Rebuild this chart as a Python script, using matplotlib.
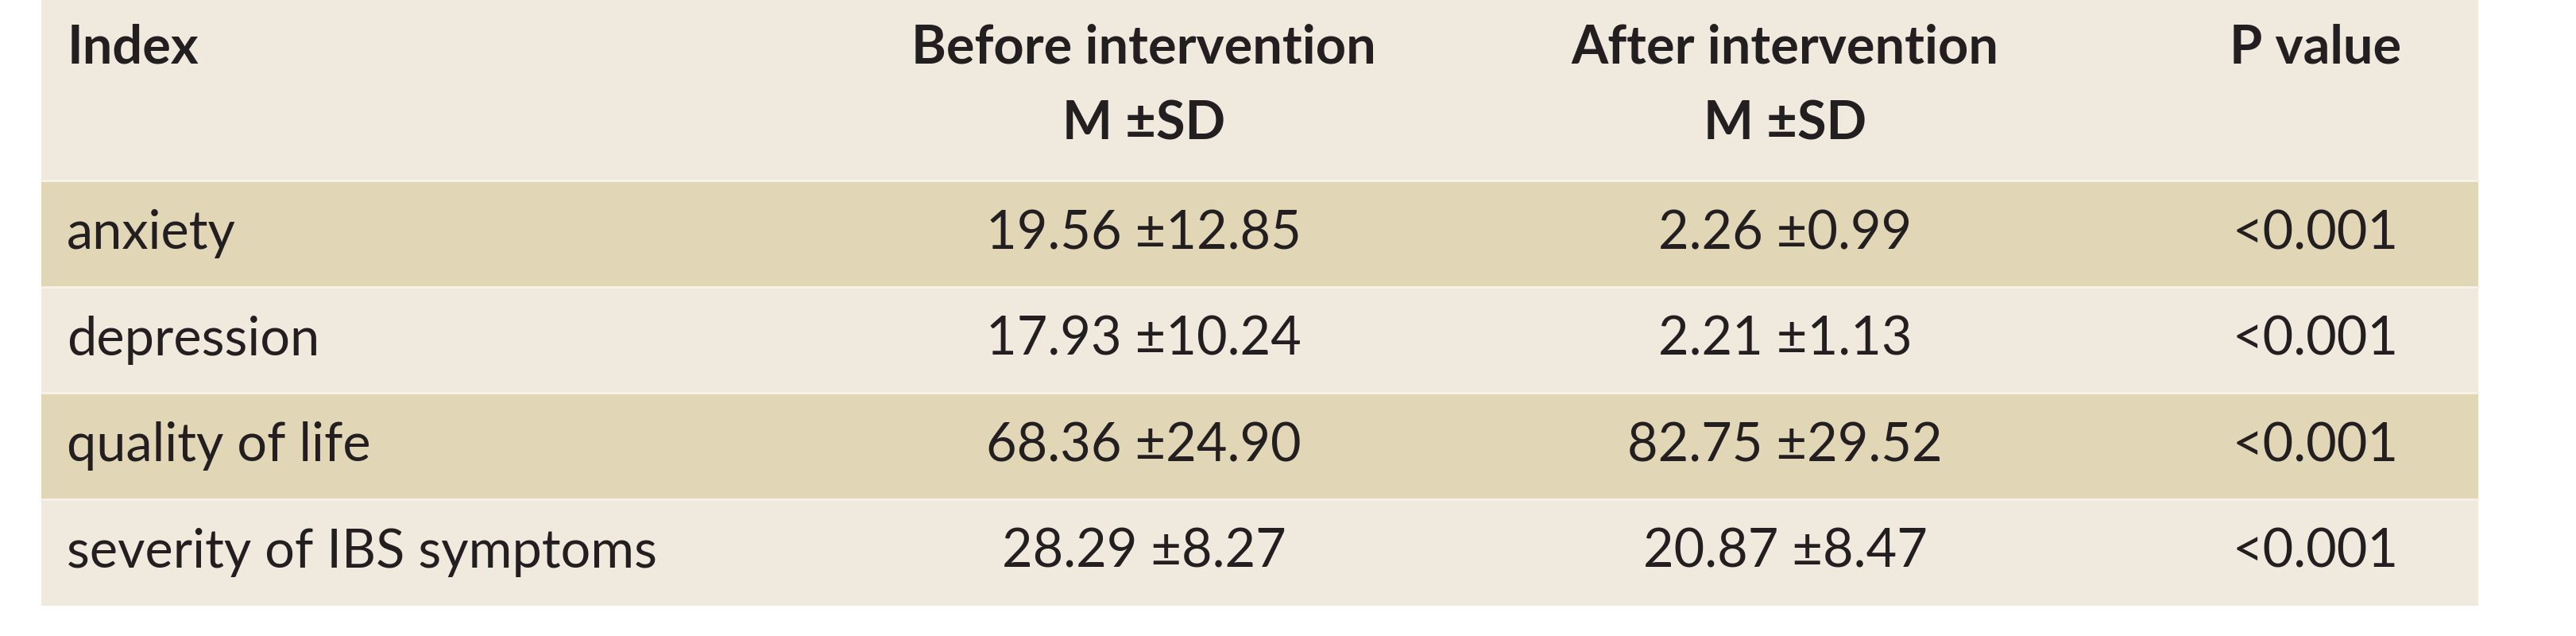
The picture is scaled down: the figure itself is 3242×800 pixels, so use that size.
import matplotlib
matplotlib.use("Agg")
import matplotlib.pyplot as plt
from matplotlib.patches import Rectangle

headers = ["Index", "Before intervention", "After intervention", "P value"]
subheaders = ["", "M ±SD", "M ±SD", ""]
indices = ["anxiety", "depression", "quality of life", "severity of IBS symptoms"]
before = ["19.56 ±12.85", "17.93 ±10.24", "68.36 ±24.90", "28.29 ±8.27"]
after = ["2.26 ±0.99", "2.21 ±1.13", "82.75 ±29.52", "20.87 ±8.47"]
pvals = ["<0.001", "<0.001", "<0.001", "<0.001"]

light = "#f0e9de"
dark = "#e1d6b6"
fam = ["Lato", "DejaVu Sans"]
tc = "#231f20"

fig = plt.figure(figsize=(32.42, 8), dpi=100)
ax = fig.add_axes([0, 0, 1, 1])
ax.set_xlim(0, 1); ax.set_ylim(1, 0); ax.axis("off")

L, R = 0.016, 0.962
top, hb, rh = 0.0, 0.284, 0.167
ax.add_patch(Rectangle((L, top), R - L, hb, color=light, lw=0))
for i in range(4):
    y0 = hb + i * rh
    ax.add_patch(Rectangle((L, y0), R - L, rh, color=dark if i % 2 == 0 else light, lw=0))
    ax.plot([L, R], [y0, y0], color="#f7f2ea", lw=2)

xs = [0.026, 0.444, 0.693, 0.899]
fs = 48
for j in range(4):
    ax.text(xs[j], 0.075, headers[j], ha="left" if j == 0 else "center", va="center",
            fontsize=fs, fontweight="bold", family=fam, color=tc)
    if subheaders[j]:
        ax.text(xs[j], 0.195, subheaders[j], ha="center", va="center",
                fontsize=fs, fontweight="bold", family=fam, color=tc)
for i in range(4):
    yc = hb + (i + 0.5) * rh
    ax.text(xs[0], yc, indices[i], ha="left", va="center", fontsize=fs, family=fam, color=tc)
    ax.text(xs[1], yc, before[i], ha="center", va="center", fontsize=fs, family=fam, color=tc)
    ax.text(xs[2], yc, after[i], ha="center", va="center", fontsize=fs, family=fam, color=tc)
    ax.text(xs[3], yc, pvals[i], ha="center", va="center", fontsize=fs, family=fam, color=tc)

fig.savefig("out.png", dpi=100, facecolor="white")
